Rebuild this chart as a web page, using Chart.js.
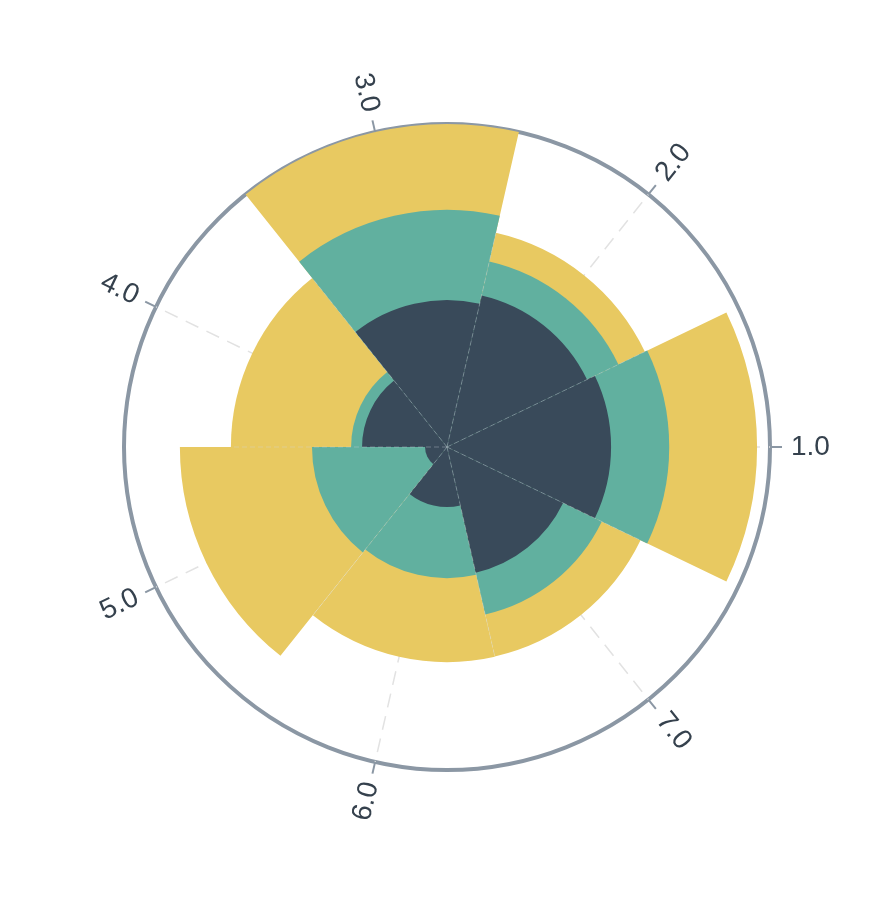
<!DOCTYPE html>
<html>
<head>
<meta charset="utf-8">
<script src="https://cdn.jsdelivr.net/npm/chart.js@4/dist/chart.umd.min.js"></script>
<style>
  html, body { margin: 0; padding: 0; background: #fff; }
  #wrap { width: 892px; height: 904px; position: relative; }
</style>
</head>
<body>
<div id="wrap"><canvas id="polar"></canvas></div>
<script>
const categories = ['1.0', '2.0', '3.0', '4.0', '5.0', '6.0', '7.0'];
const seriesA = [5.08, 4.81, 4.55, 2.63, 0.68, 1.86, 3.99];
const seriesB = [1.80, 1.08, 2.79, 0.34, 3.50, 2.20, 1.33];
const seriesC = [2.72, 0.91, 2.66, 3.72, 4.09, 2.60, 1.33];
const radiusMax = 10;

// stack the series by hand, polarArea has no stacking
const stackA = seriesA.slice();
const stackB = seriesA.map((v, i) => v + seriesB[i]);
const stackC = stackB.map((v, i) => v + seriesC[i]);

// chart.js goes clockwise, the reference goes counter-clockwise
const rev = arr => arr.slice().reverse();

const axisColor = '#8b97a4';

const polarDecor = {
  id: 'polarDecor',
  beforeDatasetsDraw(chart) {
    const scale = chart.scales.r;
    const ctx = chart.ctx;
    const R = scale.drawingArea;
    ctx.save();
    ctx.strokeStyle = '#e2e2e2';
    ctx.lineWidth = 1.5;
    ctx.setLineDash([14, 9]);
    chart.data.labels.forEach((l, k) => {
      const p = scale.getPointPosition(k + 0.5, R);
      ctx.beginPath();
      ctx.moveTo(scale.xCenter, scale.yCenter);
      ctx.lineTo(p.x, p.y);
      ctx.stroke();
    });
    ctx.restore();
  },
  afterDatasetsDraw(chart) {
    // faint seams between neighbouring bars
    const scale = chart.scales.r;
    const ctx = chart.ctx;
    const totals = chart.data.datasets[2].data;
    const n = totals.length;
    ctx.save();
    ctx.strokeStyle = 'rgba(205, 215, 225, 0.35)';
    ctx.lineWidth = 1;
    ctx.setLineDash([5, 3]);
    for (let k = 0; k < n; k++) {
      const d = scale.getDistanceFromCenterForValue(Math.min(totals[k], totals[(k + n - 1) % n]));
      const p = scale.getPointPosition(k, d);
      ctx.beginPath();
      ctx.moveTo(scale.xCenter, scale.yCenter);
      ctx.lineTo(p.x, p.y);
      ctx.stroke();
    }
    ctx.restore();
  },
  afterDraw(chart) {
    const scale = chart.scales.r;
    const ctx = chart.ctx;
    const R = scale.drawingArea;
    ctx.save();
    ctx.strokeStyle = axisColor;
    ctx.lineWidth = 2;
    ctx.fillStyle = '#35414d';
    ctx.font = '28px "Liberation Sans", Arial, sans-serif';
    ctx.textBaseline = 'middle';
    chart.data.labels.forEach((label, k) => {
      const p0 = scale.getPointPosition(k + 0.5, R);
      const p1 = scale.getPointPosition(k + 0.5, R + 12);
      ctx.beginPath();
      ctx.moveTo(p0.x, p0.y);
      ctx.lineTo(p1.x, p1.y);
      ctx.stroke();

      const a = p0.angle;
      const t = scale.getPointPosition(k + 0.5, R + 21);
      const left = Math.cos(a) < -1e-6;
      ctx.save();
      ctx.translate(t.x, t.y);
      ctx.rotate(left ? a + Math.PI : a);
      ctx.textAlign = left ? 'right' : 'left';
      ctx.fillText(label, 0, 0);
      ctx.restore();
    });
    ctx.restore();
  }
};

const ctx = document.getElementById('polar');
new Chart(ctx, {
  type: 'polarArea',
  data: {
    labels: rev(categories),
    datasets: [{
      label: 'A',
      data: rev(stackA),
      backgroundColor: '#394a5a',
      borderWidth: 0
    },
    {
      label: 'B',
      data: rev(stackB),
      backgroundColor: '#61b09f',
      borderWidth: 0
    },
    {
      label: 'C',
      data: rev(stackC),
      backgroundColor: '#e8c961',
      borderWidth: 0
    }]
  },
  options: {
    responsive: true,
    maintainAspectRatio: false,
    animation: false,
    layout: {
      padding: { left: 124, right: 122, top: 124, bottom: 134 }
    },
    plugins: {
      legend: { display: false },
      tooltip: { enabled: false }
    },
    scales: {
      r: {
        min: 0,
        max: radiusMax,
        startAngle: 90 + 180 / categories.length,
        z: 1,
        ticks: { display: false, stepSize: radiusMax },
        grid: { circular: true, color: axisColor, lineWidth: 4 },
        angleLines: { display: false },
        pointLabels: { display: false }
      }
    }
  },
  plugins: [polarDecor]
});
</script>
</body>
</html>
